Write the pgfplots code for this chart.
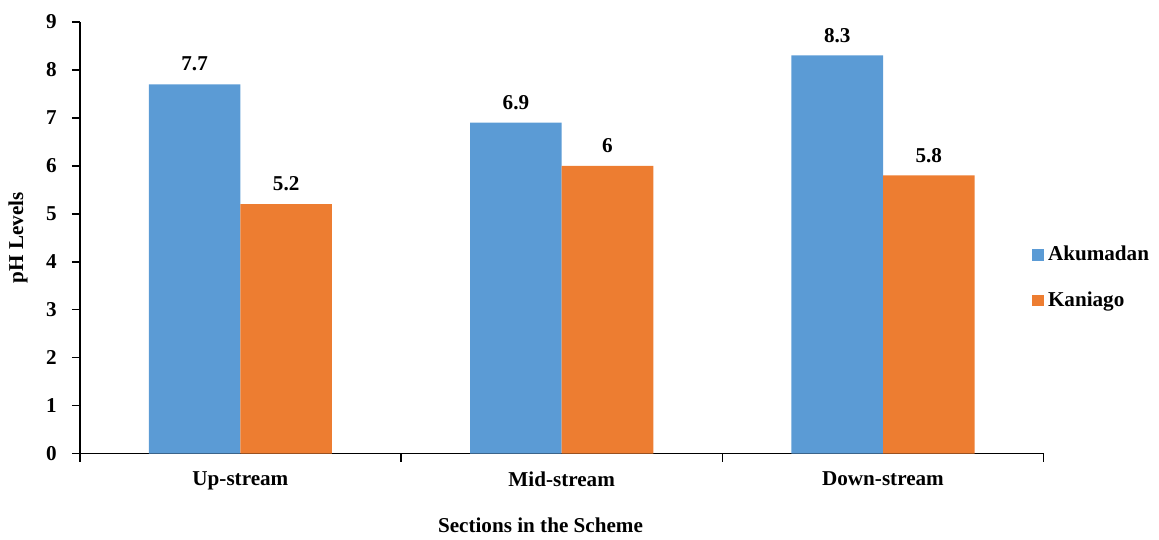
\documentclass[border=0pt]{standalone}
\usepackage{pgfplots}
\pgfplotsset{compat=1.18}
\usepackage{fontspec}
\setmainfont{Liberation Serif}
\definecolor{akublue}{HTML}{5B9BD5}
\definecolor{kanorange}{HTML}{ED7D31}
\begin{document}
\begin{tikzpicture}
\begin{axis}[
  scale only axis,
  width=483.5pt, height=216.5pt,
  xmin=-0.5, xmax=2.5,
  ymin=0, ymax=9,
  ytick={0,1,...,9},
  % category boundaries carry the ticks, category centres carry the names
  xtick={-0.5,0.5,1.5,2.5},
  xticklabels={},
  extra x ticks={0,1,2},
  extra x tick labels={Up-stream,Mid-stream,Down-stream},
  extra x tick style={major tick length=0pt},
  axis lines*=left,
  axis line style={line width=0.8pt, -},
  tick style={black, line width=0.8pt},
  tick align=outside,
  major tick length=4pt,
  /pgf/number format/assume math mode=true,
  ticklabel style={font=\fontsize{10.6}{12}\selectfont\bfseries},
  yticklabel style={xshift=-4pt},
  xticklabel style={yshift=-5.5pt},
  ybar=0pt, bar width=0.285,
  nodes near coords,
  every node near coord/.append style={font=\fontsize{10.6}{12}\selectfont\bfseries, yshift=3pt},
  ylabel={pH Levels},
  xlabel={Sections in the Scheme},
  label style={font=\fontsize{10.6}{12}\selectfont\bfseries},
  ylabel style={at={(axis description cs:0,0.5)}, anchor=center, yshift=31pt},
  xlabel style={at={(axis description cs:0.478,0)}, anchor=center, yshift=-36pt},
  legend style={draw=none, at={(axis description cs:1.0,0.5)}, anchor=north west,
    font=\fontsize{10.6}{12}\selectfont\bfseries, row sep=10pt, xshift=-9pt, yshift=0pt},
  legend image code/.code={\fill[#1] (0cm,-3pt) rectangle (6pt,3pt);},
  legend cell align=left,
  clip=false,
]
\addplot[fill=akublue, draw=none] coordinates {(0,7.7) (1,6.9) (2,8.3)};
\addplot[fill=kanorange, draw=none] coordinates {(0,5.2) (1,6) (2,5.8)};
\legend{Akumadan,Kaniago}
\end{axis}
% white margin round the chart
\path (current axis.south west) ++(-40pt,-41.5pt) coordinate (bbsw);
\path (current axis.north east) ++(56pt,11pt) coordinate (bbne);
\path (bbsw) rectangle (bbne);
\end{tikzpicture}
\end{document}
